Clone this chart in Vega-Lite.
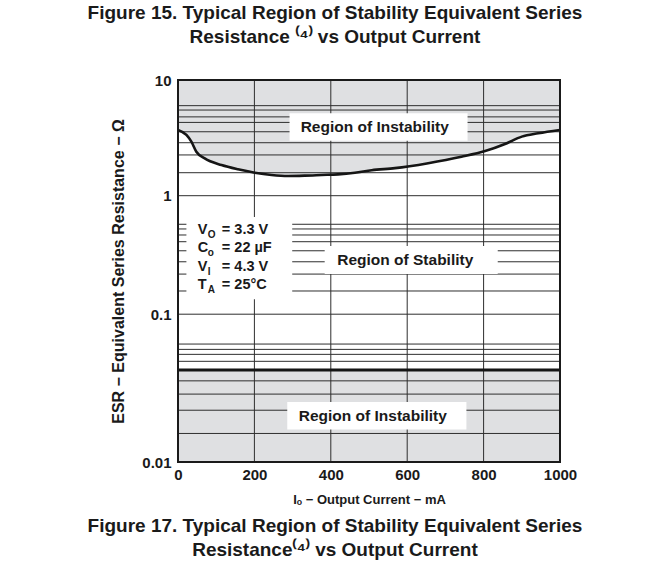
{
  "$schema": "https://vega.github.io/schema/vega-lite/v6.json",
  "background": "white",
  "padding": {"left": 87, "top": 4, "right": 6, "bottom": 4},
  "config": {
    "font": "Liberation Sans",
    "view": {"stroke": null},
    "axis": {"labelFont": "Liberation Sans", "titleFont": "Liberation Sans"},
    "title": {"font": "Liberation Sans"}
  },
  "title": {
    "text": ["Figure 15. Typical Region of Stability Equivalent Series", "Resistance ⁽⁴⁾ vs Output Current"],
    "fontSize": 19, "fontWeight": "bold", "color": "#1a1a1a", "anchor": "middle", "frame": "bounds", "lineHeight": 23.5, "offset": 26.5
  },
  "datasets": {
    "curve": [
      {"mA": 0, "esr": 3.7}, {"mA": 22, "esr": 3.35}, {"mA": 35, "esr": 2.93}, {"mA": 48, "esr": 2.4},
      {"mA": 70, "esr": 2.1}, {"mA": 114, "esr": 1.84}, {"mA": 157, "esr": 1.69}, {"mA": 201, "esr": 1.58},
      {"mA": 245, "esr": 1.51}, {"mA": 288, "esr": 1.48}, {"mA": 332, "esr": 1.49}, {"mA": 376, "esr": 1.51},
      {"mA": 419, "esr": 1.53}, {"mA": 463, "esr": 1.58}, {"mA": 507, "esr": 1.66}, {"mA": 568, "esr": 1.73},
      {"mA": 655, "esr": 1.91}, {"mA": 742, "esr": 2.17}, {"mA": 804, "esr": 2.43}, {"mA": 856, "esr": 2.8},
      {"mA": 900, "esr": 3.24}, {"mA": 943, "esr": 3.46}, {"mA": 1000, "esr": 3.7}
    ],
    "hgrid": [
      {"esr": 6.0}, {"esr": 5.5}, {"esr": 4.8}, {"esr": 4.3}, {"esr": 3.57}, {"esr": 2.87}, {"esr": 2.25}, {"esr": 1.58},
      {"esr": 1}, {"esr": 0.574}, {"esr": 0.524}, {"esr": 0.466}, {"esr": 0.409}, {"esr": 0.343}, {"esr": 0.277},
      {"esr": 0.218}, {"esr": 0.157}, {"esr": 0.1}, {"esr": 0.0628}, {"esr": 0.0578}, {"esr": 0.0535}, {"esr": 0.048},
      {"esr": 0.0354}, {"esr": 0.0288}, {"esr": 0.0224}, {"esr": 0.0156}
    ],
    "vgrid": [{"mA": 200}, {"mA": 400}, {"mA": 600}, {"mA": 800}],
    "vframe": [{"mA": 0}, {"mA": 1000}],
    "hframe": [{"esr": 0.01}, {"esr": 10}],
    "floor": [{"mA": 0, "mA2": 1000, "esr": 0.01, "esr2": 0.042}],
    "boxes": [
      {"mA": 292, "mA2": 758, "esr": 5.15, "esr2": 2.99},
      {"mA": 286, "mA2": 755, "esr": 0.0255, "esr2": 0.0166},
      {"mA": 384, "mA2": 837, "esr": 0.376, "esr2": 0.218},
      {"mA": 22, "mA2": 299, "esr": 0.661, "esr2": 0.1335}
    ],
    "labels": [
      {"mA": 515, "esr": 3.93, "text": "Region of Instability"},
      {"mA": 510, "esr": 0.0206, "text": "Region of Instability"},
      {"mA": 595, "esr": 0.287, "text": "Region of Stability"}
    ],
    "legend": [
      {"mA": 52, "esr": 0.514, "main": "V", "sub": "O", "rest": "= 3.3 V"},
      {"mA": 52, "esr": 0.36, "main": "C", "sub": "o", "rest": "= 22 µF"},
      {"mA": 52, "esr": 0.252, "main": "V", "sub": "I", "rest": "= 4.3 V"},
      {"mA": 52, "esr": 0.176, "main": "T", "sub": "A", "rest": "= 25°C"}
    ]
  },
  "vconcat": [
    {
      "width": 382,
      "height": 382,
      "title": {
        "text": ["Figure 17. Typical Region of Stability Equivalent Series", "Resistance⁽⁴⁾ vs Output Current"],
        "orient": "bottom", "fontSize": 19, "fontWeight": "bold", "color": "#1a1a1a", "anchor": "middle", "frame": "bounds", "lineHeight": 23.5, "offset": 11, "dx": -8.8
      },
      "layer": [
        {
          "data": {"name": "curve"},
          "mark": {"type": "area", "fill": "#dfe0e2", "interpolate": "monotone"},
          "encoding": {
            "x": {"field": "mA", "type": "quantitative", "scale": {"domain": [0, 1000], "nice": false, "zero": false},
              "axis": {"title": "Iₒ − Output Current − mA", "values": [0, 200, 400, 600, 800, 1000], "format": "d", "ticks": false, "grid": false, "domain": false, "labelFontSize": 15, "labelFontWeight": "bold", "labelColor": "#1a1a1a", "labelPadding": 5, "labelFlush": false, "labelOverlap": false, "titleFontSize": 13, "titleFontWeight": "bold", "titleColor": "#1a1a1a", "titlePadding": 11, "zindex": 1}},
            "y": {"field": "esr", "type": "quantitative", "scale": {"type": "log", "domain": [0.01, 0.1, 1, 10], "range": [382, 234.2, 115.7, 0], "nice": false, "zero": false},
              "axis": {"title": "ESR − Equivalent Series Resistance − Ω", "values": [0.01, 0.1, 1, 10], "format": "~g", "ticks": false, "grid": false, "domain": false, "labelFontSize": 15, "labelFontWeight": "bold", "labelColor": "#1a1a1a", "labelPadding": 7, "labelOverlap": false, "titleFontSize": 16, "titleFontWeight": "bold", "titleColor": "#1a1a1a", "titlePadding": 15, "zindex": 1}},
            "y2": {"datum": 10}
          }
        },
        {
          "data": {"name": "floor"},
          "mark": {"type": "rect", "fill": "#dfe0e2"},
          "encoding": {
            "x": {"field": "mA", "type": "quantitative"},
            "x2": {"field": "mA2"},
            "y": {"field": "esr", "type": "quantitative"},
            "y2": {"field": "esr2"}
          }
        },
        {
          "data": {"name": "hgrid"},
          "mark": {"type": "rule", "stroke": "#2e2e2e", "strokeWidth": 1},
          "encoding": {"y": {"field": "esr", "type": "quantitative"}}
        },
        {
          "data": {"name": "vgrid"},
          "mark": {"type": "rule", "stroke": "#2e2e2e", "strokeWidth": 1},
          "encoding": {"x": {"field": "mA", "type": "quantitative"}}
        },
        {
          "data": {"name": "boxes"},
          "mark": {"type": "rect", "fill": "white"},
          "encoding": {
            "x": {"field": "mA", "type": "quantitative"},
            "x2": {"field": "mA2"},
            "y": {"field": "esr", "type": "quantitative"},
            "y2": {"field": "esr2"}
          }
        },
        {
          "data": {"name": "curve"},
          "mark": {"type": "line", "stroke": "#151515", "strokeWidth": 2.6, "interpolate": "monotone"},
          "encoding": {
            "x": {"field": "mA", "type": "quantitative"},
            "y": {"field": "esr", "type": "quantitative"}
          }
        },
        {
          "data": {"name": "floor"},
          "mark": {"type": "rule", "stroke": "#151515", "strokeWidth": 3},
          "encoding": {"y": {"field": "esr2", "type": "quantitative"}}
        },
        {
          "data": {"name": "vframe"},
          "mark": {"type": "rule", "stroke": "#1a1a1a", "strokeWidth": 2, "strokeCap": "square"},
          "encoding": {"x": {"field": "mA", "type": "quantitative"}}
        },
        {
          "data": {"name": "hframe"},
          "mark": {"type": "rule", "stroke": "#1a1a1a", "strokeWidth": 2, "strokeCap": "square"},
          "encoding": {"y": {"field": "esr", "type": "quantitative"}}
        },
        {
          "data": {"name": "labels"},
          "mark": {"type": "text", "fontSize": 15.5, "fontWeight": "bold", "color": "#1a1a1a", "align": "center", "baseline": "middle"},
          "encoding": {
            "x": {"field": "mA", "type": "quantitative"},
            "y": {"field": "esr", "type": "quantitative"},
            "text": {"field": "text"}
          }
        },
        {
          "data": {"name": "legend"},
          "mark": {"type": "text", "fontSize": 14.5, "fontWeight": "bold", "color": "#1a1a1a", "align": "left", "baseline": "middle"},
          "encoding": {
            "x": {"field": "mA", "type": "quantitative"},
            "y": {"field": "esr", "type": "quantitative"},
            "text": {"field": "main"}
          }
        },
        {
          "data": {"name": "legend"},
          "mark": {"type": "text", "fontSize": 10, "fontWeight": "bold", "color": "#1a1a1a", "align": "left", "baseline": "middle", "dx": 10, "dy": 5},
          "encoding": {
            "x": {"field": "mA", "type": "quantitative"},
            "y": {"field": "esr", "type": "quantitative"},
            "text": {"field": "sub"}
          }
        },
        {
          "data": {"name": "legend"},
          "mark": {"type": "text", "fontSize": 14.5, "fontWeight": "bold", "color": "#1a1a1a", "align": "left", "baseline": "middle", "dx": 24},
          "encoding": {
            "x": {"field": "mA", "type": "quantitative"},
            "y": {"field": "esr", "type": "quantitative"},
            "text": {"field": "rest"}
          }
        }
      ]
    }
  ]
}
